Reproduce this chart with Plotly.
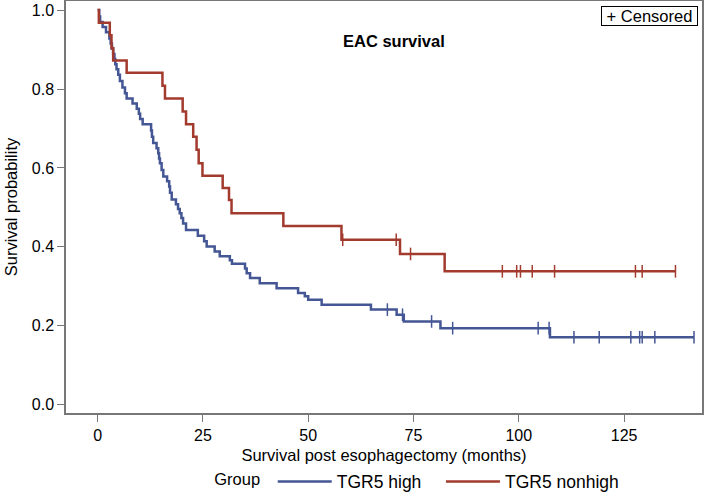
import plotly.graph_objects as go

# ---- data ----
high_t = [0, 0.4, 0.6, 1.2, 2.0, 2.8, 3.1, 3.4, 3.7, 4.0, 4.2, 4.5, 4.9, 5.3, 5.9,
          6.5, 6.9, 8.3, 9.3, 9.8, 10.1, 10.7, 12.7, 12.9, 13.2, 14.0, 14.4, 14.6, 14.8, 15.2,
          15.6, 16.5, 17.0, 17.2, 17.6, 18.6, 19.1, 19.5, 19.9, 20.3, 21.0, 23.8, 25.3, 25.9,
          27.8, 29.0, 31.4, 31.9, 35.0, 35.4, 36.2, 38.5, 42.5, 47.6, 49.2, 50.0, 53.2, 64.9,
          71.0, 72.7, 81.4, 107.4, 141.6]
high_s = [1.0, 0.984, 0.970, 0.957, 0.944, 0.928, 0.915, 0.902, 0.889, 0.876, 0.863, 0.850,
          0.836, 0.820, 0.804, 0.789, 0.776, 0.763, 0.750, 0.737, 0.724, 0.711, 0.695, 0.679,
          0.663, 0.650, 0.637, 0.624, 0.612, 0.595, 0.578, 0.566, 0.553, 0.537, 0.520, 0.508,
          0.496, 0.485, 0.473, 0.459, 0.443, 0.428, 0.414, 0.401, 0.388, 0.376, 0.366, 0.357,
          0.345, 0.333, 0.321, 0.308, 0.295, 0.283, 0.275, 0.266, 0.253, 0.241, 0.228, 0.211,
          0.194, 0.171, 0.171]
high_cens_t = [68.8, 72.4, 79.3, 84.3, 104.6, 107.2, 113.1, 119.1, 126.6, 128.7, 129.3, 132.3, 141.6]
high_cens_s = [0.241, 0.228, 0.211, 0.194, 0.194, 0.194, 0.171, 0.171, 0.171, 0.171, 0.171, 0.171, 0.171]

non_t = [0, 0.3, 2.9, 3.3, 3.7, 6.9, 15.4, 16.0, 20.2, 21.0, 22.7, 23.5, 24.0, 24.9, 29.7,
         31.2, 31.8, 44.1, 57.9, 71.8, 82.4, 137.2]
non_s = [1.0, 0.968, 0.936, 0.904, 0.872, 0.841, 0.808, 0.776, 0.743, 0.711, 0.679, 0.646,
         0.612, 0.580, 0.549, 0.519, 0.485, 0.453, 0.418, 0.382, 0.338, 0.338]
non_cens_t = [58.2, 70.9, 74.3, 96.1, 99.5, 100.4, 103.2, 108.5, 127.7, 129.3, 137.2]
non_cens_s = [0.418, 0.418, 0.382, 0.338, 0.338, 0.338, 0.338, 0.338, 0.338, 0.338, 0.338]

x_ticks = [0, 25, 50, 75, 100, 125]
y_ticks = [0.0, 0.2, 0.4, 0.6, 0.8, 1.0]
y_tick_text = ["0.0", "0.2", "0.4", "0.6", "0.8", "1.0"]

BLUE = "#445694"
RED = "#A23A2E"
FRAME = "#777777"
FONT = "Liberation Sans, Arial, sans-serif"
PAD = "\u00a0\u00a0\u00a0"

fig = go.Figure()
fig.add_trace(go.Scatter(x=high_t, y=high_s, mode="lines", line_shape="hv",
                         line=dict(color=BLUE, width=2.5), name="TGR5 high" + PAD))
fig.add_trace(go.Scatter(x=non_t, y=non_s, mode="lines", line_shape="hv",
                         line=dict(color=RED, width=2.5), name="TGR5 nonhigh"))
fig.add_trace(go.Scatter(x=high_cens_t, y=high_cens_s, mode="markers", showlegend=False,
                         marker=dict(symbol="line-ns", size=9, line=dict(color=BLUE, width=1.5))))
fig.add_trace(go.Scatter(x=non_cens_t, y=non_cens_s, mode="markers", showlegend=False,
                         marker=dict(symbol="line-ns", size=9, line=dict(color=RED, width=1.5))))

axis_common = dict(showline=True, linecolor=FRAME, linewidth=1.5, mirror=True,
                   ticks="outside", ticklen=7, tickcolor=FRAME, tickwidth=1.2,
                   showgrid=False, zeroline=False, automargin=False,
                   tickfont=dict(family=FONT, size=16, color="black"))

fig.update_xaxes(range=[-7.5, 143.5], tickvals=x_ticks,
                 title=dict(text="Survival post esophagectomy (months)",
                            font=dict(family=FONT, size=16.5, color="black"), standoff=22),
                 **axis_common)
fig.update_yaxes(range=[-0.021, 1.023], tickvals=y_ticks, ticktext=y_tick_text,
                 title=dict(text="Survival probability",
                            font=dict(family=FONT, size=16.5, color="black"), standoff=10),
                 **axis_common)

fig.add_annotation(text="<b>EAC survival</b>", xref="paper", yref="paper",
                   x=0.516, y=0.903, xanchor="center", yanchor="middle", showarrow=False,
                   font=dict(family=FONT, size=16.5, color="black"))
fig.add_annotation(text="\u00a0+ Censored\u00a0", xref="paper", yref="paper",
                   x=0.993, y=0.988, xanchor="right", yanchor="top", showarrow=False,
                   bordercolor="black", borderwidth=1, borderpad=0, bgcolor="white",
                   font=dict(family=FONT, size=16.5, color="black"))

fig.update_layout(
    width=704, height=494,
    margin=dict(l=66, r=2, t=1, b=81),
    paper_bgcolor="white", plot_bgcolor="white",
    font=dict(family=FONT, size=16.5, color="black"),
    legend=dict(orientation="h", x=0.23, xanchor="left",
                yref="container", y=0.025, yanchor="middle",
                title=dict(text="Group ", font=dict(family=FONT, size=16.5)),
                itemwidth=54, font=dict(family=FONT, size=17.5), tracegroupgap=0,
                bgcolor="rgba(0,0,0,0)"),
)

fig.write_html("out.html", config={"displayModeBar": False},
               post_script="document.body.style.margin='0';")
